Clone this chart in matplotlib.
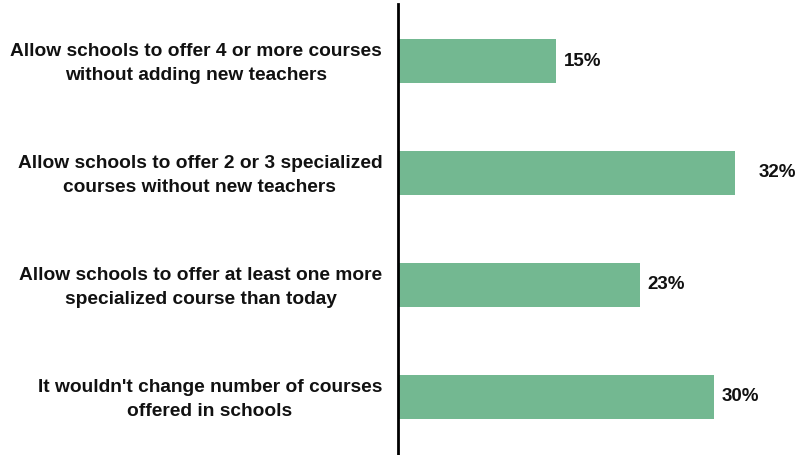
import matplotlib
matplotlib.use("Agg")
import matplotlib.pyplot as plt
from matplotlib.transforms import ScaledTranslation

categories = [
    "Allow schools to offer 4 or more courses\nwithout adding new teachers",
    "Allow schools to offer 2 or 3 specialized\ncourses without new teachers",
    "Allow schools to offer at least one more\nspecialized course than today",
    "It wouldn't change number of courses\noffered in schools",
]
values = [15, 32, 23, 30]
value_labels = ["15%", "32%", "23%", "30%"]
label_offsets = [0.75, 2.25, 0.75, 0.75]

plt.rcParams["font.family"] = ["Liberation Sans", "DejaVu Sans"]

fig = plt.figure(figsize=(8.01, 4.55), dpi=100)
W, H = 801, 455
left, right, top, bottom = 397.5, 801, 4, 455
ax = fig.add_axes([left / W, 1 - bottom / H, (right - left) / W, (bottom - top) / H])

ypos = list(range(len(values)))
ax.barh(ypos, values, height=0.39, color="#73b891", zorder=2)

ax.set_xlim(0, 38.3)
ax.set_ylim(3.52, -0.51)

for y, v, lab, off in zip(ypos, values, value_labels, label_offsets):
    ax.text(v + off, y, lab, va="center", ha="left", fontsize=13.5,
            fontweight="bold", color="#111111")

ax.set_yticks(ypos)
ax.set_yticklabels(categories, fontsize=13.8, fontweight="bold",
                   multialignment="center", linespacing=1.52, color="#111111")
ax.tick_params(axis="y", length=0, pad=11)
ax.set_xticks([])

# nudge category labels slightly upward
shift = ScaledTranslation(0, 0.03, fig.dpi_scale_trans)
for t in ax.get_yticklabels():
    t.set_transform(t.get_transform() + shift)

for s in ["top", "right", "bottom"]:
    ax.spines[s].set_visible(False)
ax.spines["left"].set_linewidth(2)
ax.spines["left"].set_color("#000000")

fig.savefig("out.png", dpi=100)
